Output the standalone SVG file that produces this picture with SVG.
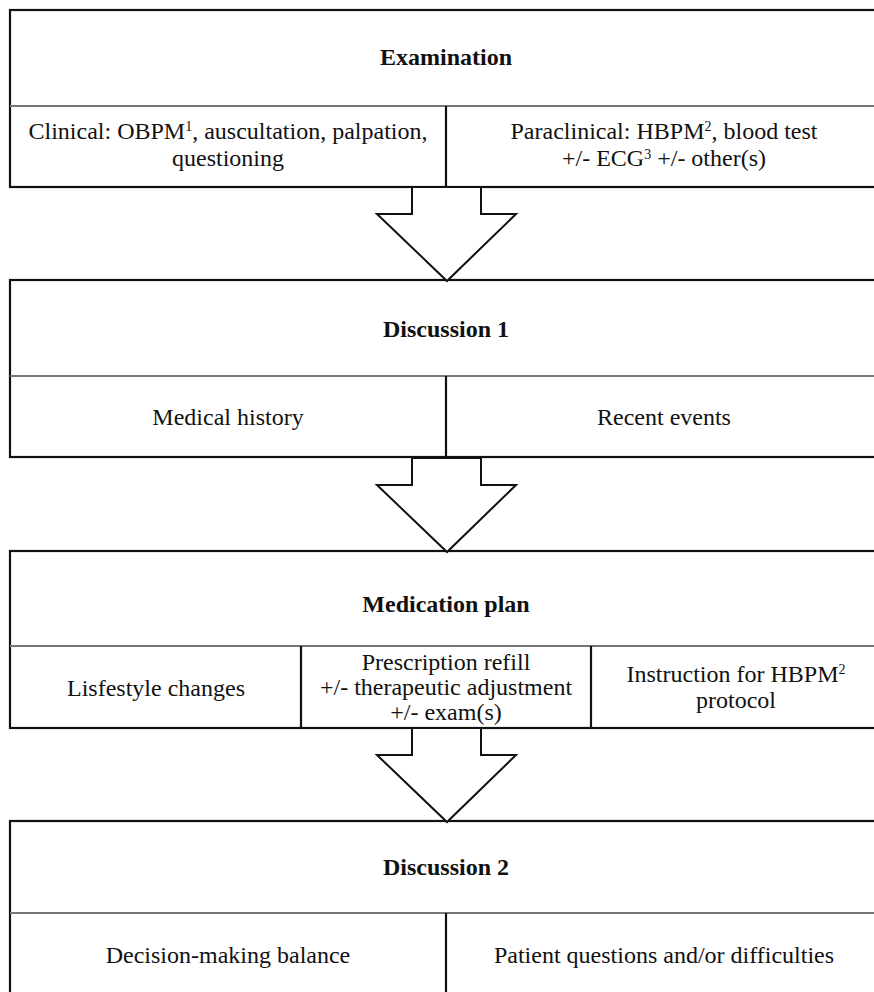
<svg xmlns="http://www.w3.org/2000/svg" width="874" height="992" viewBox="0 0 874 992">
<style>
.box{fill:#fff;stroke:#111;stroke-width:2.2}
.div{stroke:#777;stroke-width:2}
.vl{stroke:#111;stroke-width:2.2}
.arrow{fill:#fff;stroke:#111;stroke-width:2;stroke-linejoin:miter}
text{font-family:"Liberation Serif","Times New Roman",serif;font-size:24px;fill:#111;text-anchor:middle}
.t{font-weight:bold}
.sup{font-size:14px}
</style>
<rect width="874" height="992" fill="#fff"/>
<g id="examination">
<rect class="box" x="10" y="10" width="872" height="177"/>
<line class="div" x1="10" y1="106" x2="882" y2="106"/>
<line class="vl" x1="446" y1="106" x2="446" y2="187"/>
<text class="t" x="446" y="65">Examination</text>
<text x="228" y="139">Clinical: OBPM<tspan class="sup" dy="-8">1</tspan><tspan dy="8">, auscultation, palpation,</tspan></text>
<text x="228" y="166">questioning</text>
<text x="664" y="139">Paraclinical: HBPM<tspan class="sup" dy="-8">2</tspan><tspan dy="8">, blood test</tspan></text>
<text x="664" y="166">+/- ECG<tspan class="sup" dy="-7">3</tspan><tspan dy="7"> +/- other(s)</tspan></text>
</g>
<g id="discussion1">
<rect class="box" x="10" y="280" width="872" height="177"/>
<line class="div" x1="10" y1="376" x2="882" y2="376"/>
<line class="vl" x1="446" y1="376" x2="446" y2="457"/>
<text class="t" x="446" y="337">Discussion 1</text>
<text x="228" y="425">Medical history</text>
<text x="664" y="425">Recent events</text>
</g>
<g id="medication">
<rect class="box" x="10" y="551" width="872" height="177"/>
<line class="div" x1="10" y1="646" x2="882" y2="646"/>
<line class="vl" x1="301" y1="646" x2="301" y2="728"/>
<line class="vl" x1="591" y1="646" x2="591" y2="728"/>
<text class="t" x="446" y="612">Medication plan</text>
<text x="156" y="696">Lisfestyle changes</text>
<text x="446" y="670">Prescription refill</text>
<text x="446" y="695">+/- therapeutic adjustment</text>
<text x="446" y="720">+/- exam(s)</text>
<text x="736" y="682">Instruction for HBPM<tspan class="sup" dy="-8">2</tspan></text>
<text x="736" y="708">protocol</text>
</g>
<g id="discussion2">
<rect class="box" x="10" y="821" width="872" height="190"/>
<line class="div" x1="10" y1="913" x2="882" y2="913"/>
<line class="vl" x1="446" y1="913" x2="446" y2="1000"/>
<text class="t" x="446" y="875">Discussion 2</text>
<text x="228" y="963">Decision-making balance</text>
<text x="664" y="963">Patient questions and/or difficulties</text>
</g>
<g id="connectors">
<polygon class="arrow" points="412,187 412,214 377,214 447,281 516,214 481,214 481,187"/>
<polygon class="arrow" points="412,458 412,485 377,485 447,552 516,485 481,485 481,458"/>
<polygon class="arrow" points="412,728 412,755 377,755 447,822 516,755 481,755 481,728"/>
</g>
</svg>
